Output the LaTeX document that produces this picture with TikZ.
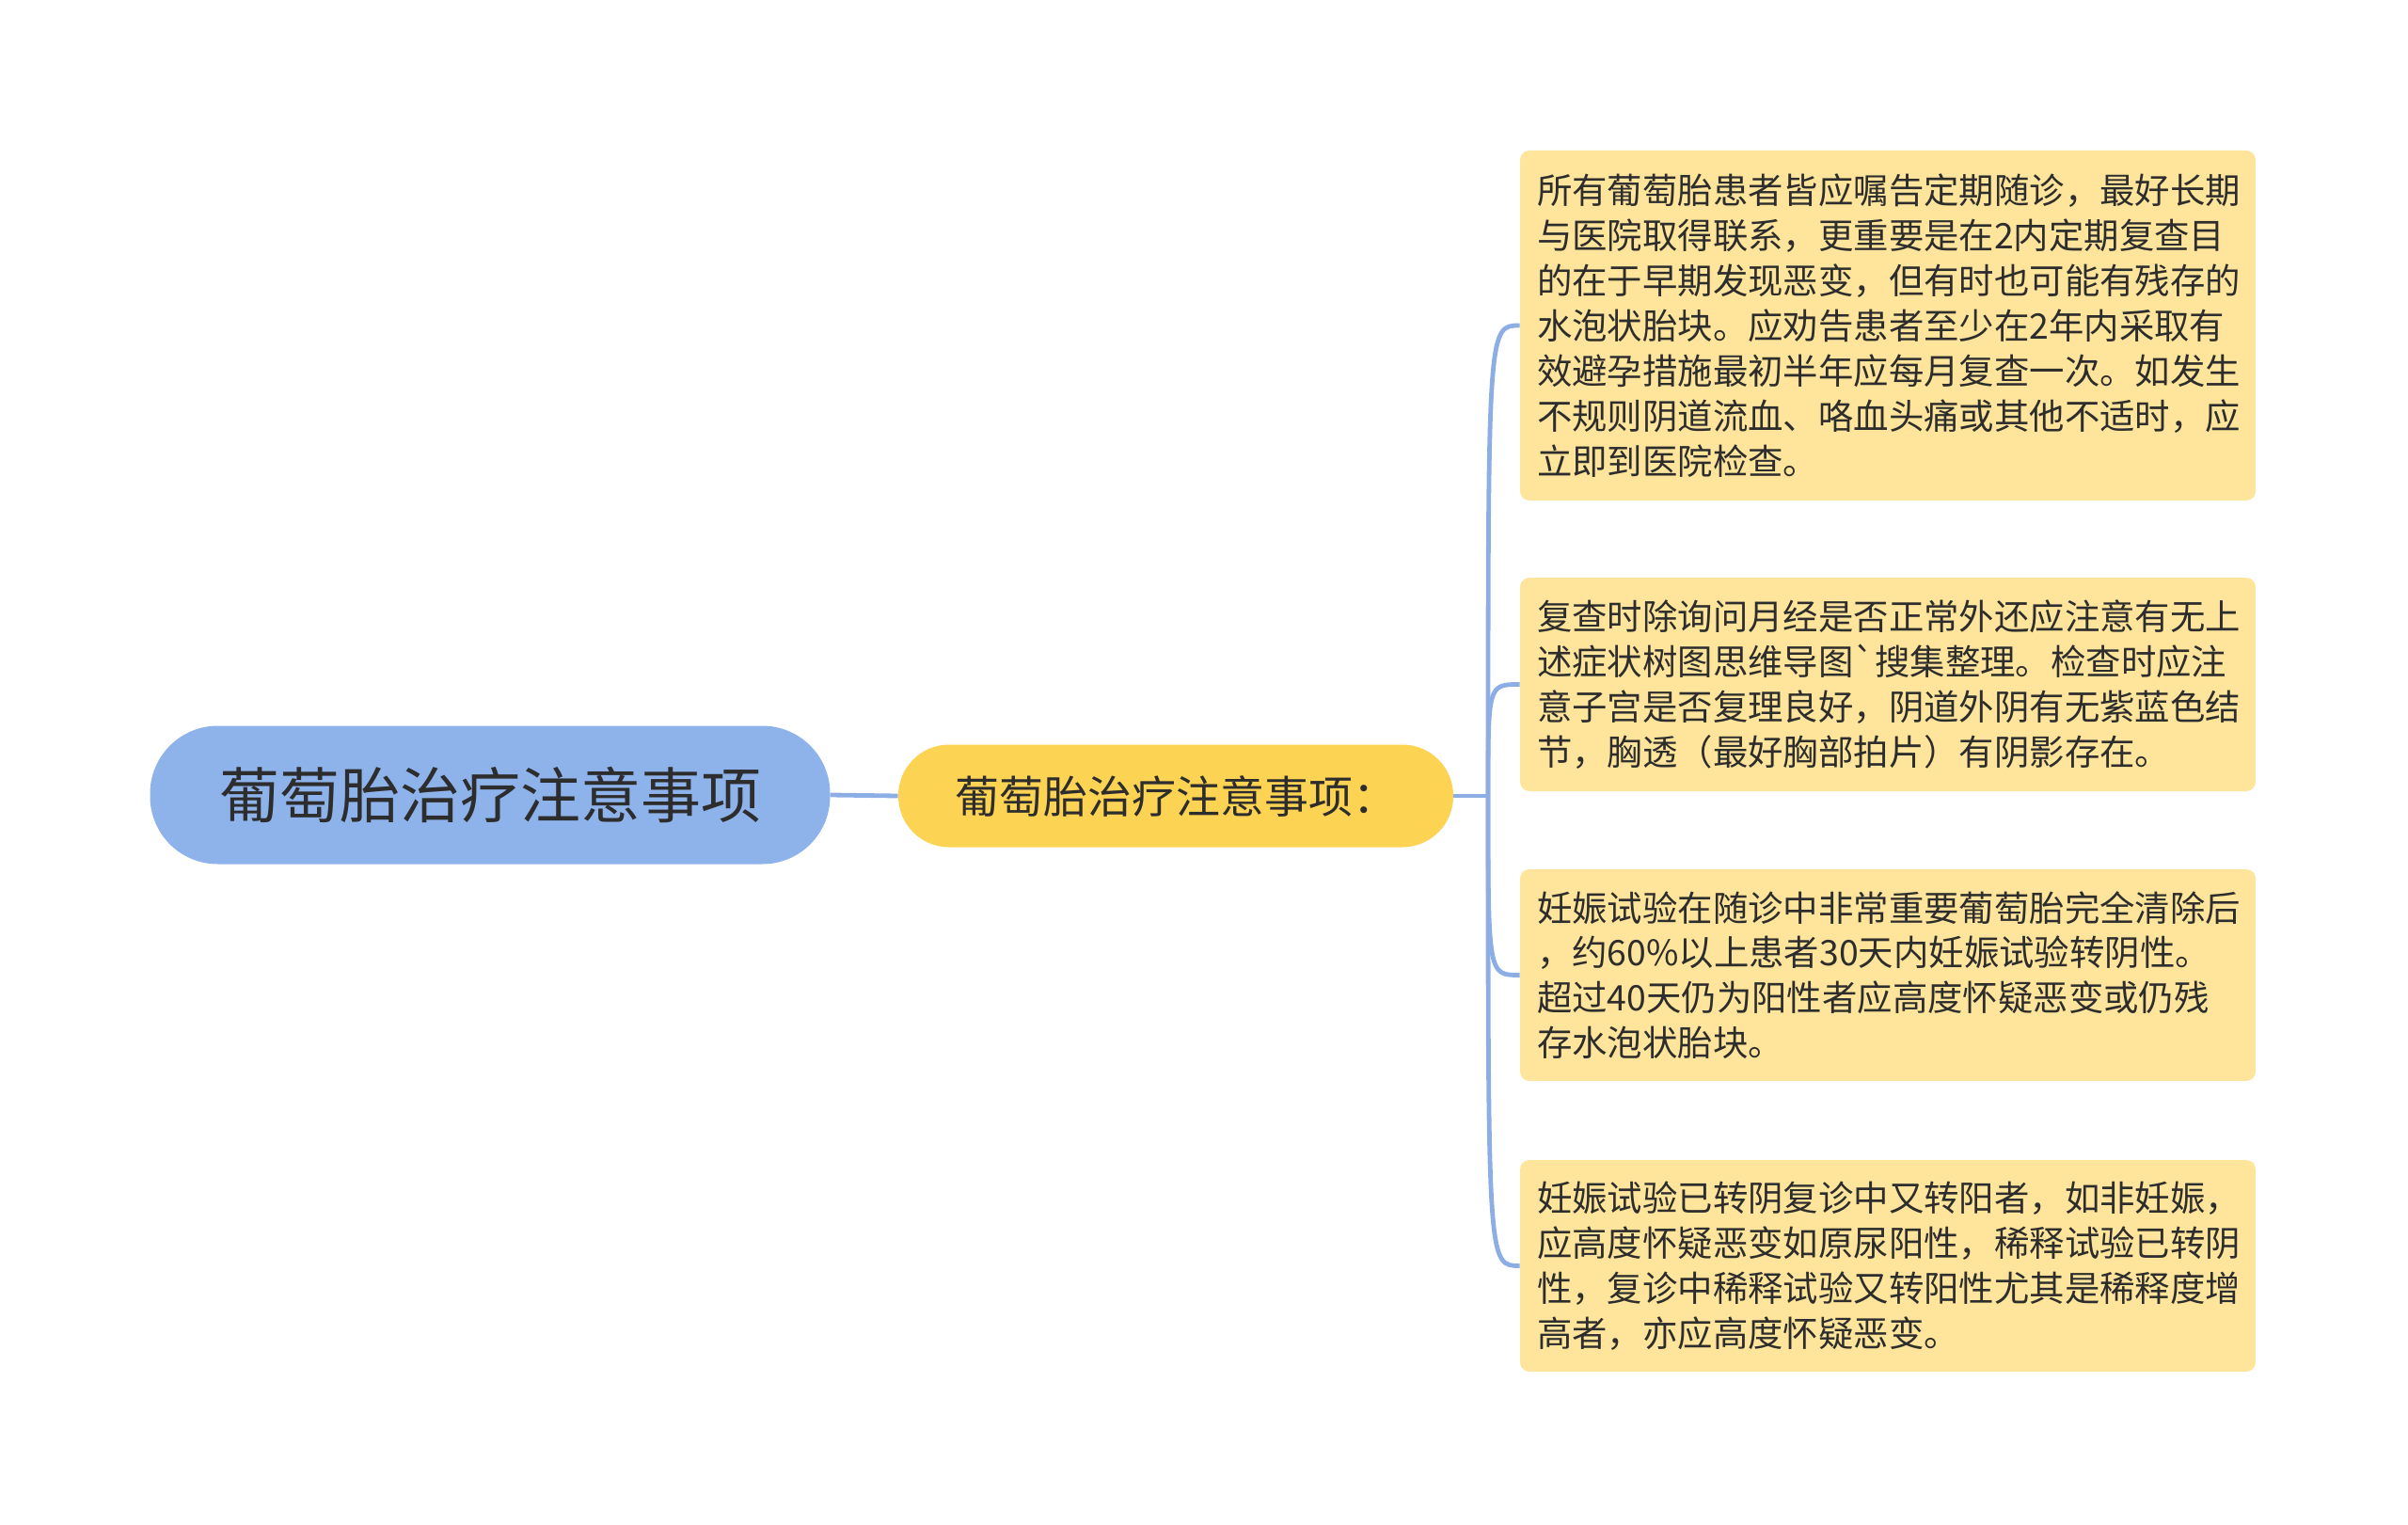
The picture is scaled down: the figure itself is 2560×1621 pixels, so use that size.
\documentclass[tikz,border=0pt]{standalone}
\usepackage{fontspec}
\setmainfont{Noto Sans CJK SC}
\newfontfamily\plainfont{Noto Sans CJK SC}
\definecolor{rootc}{HTML}{8EB3EA}
\definecolor{subc}{HTML}{FDD353}
\definecolor{leafc}{HTML}{FEE59B}
\definecolor{linec}{HTML}{8DAEE5}
\definecolor{txt}{HTML}{2D2D2D}
\begin{document}
\begin{tikzpicture}[x=0.5pt,y=-0.5pt,
  rootbox/.style={fill=rootc, rounded corners=36pt, minimum width=361.5pt, minimum height=73.5pt, inner sep=0pt, text=txt, font=\fontsize{32pt}{38pt}\selectfont},
  subbox/.style={fill=subc, rounded corners=27pt, minimum width=295pt, minimum height=54.5pt, inner sep=0pt, text=txt, font=\fontsize{23.5pt}{28pt}\selectfont},
  leaf/.style={fill=leafc, rounded corners=5pt, text width=373pt, inner xsep=9pt, inner ysep=0pt, align=left, text=txt, font=\fontsize{18.7pt}{23.95pt}\selectfont},
  link/.style={draw=linec, line width=2.4pt}]
\path[use as bounding box] (0,0) rectangle (2560,1621);
\node[rootbox] (root) at (521,845) {葡萄胎治疗注意事项};
\node[subbox] (sub) at (1250,846) {葡萄胎治疗注意事项：};
\node[leaf, minimum height=186pt] (l1) at (2007,346) {所有葡萄胎患者皆应嘱告定期随诊，最好长期\\与医院取得联系，更重要是在2内定期复查目\\的在于早期发现恶变，但有时也可能有残存的\\水泡状胎块。应劝告患者至少在2年内采取有\\效避孕措施最初半年应每月复查一次。如发生\\不规则阴道流血、咯血头痛或其他不适时，应\\立即到医院检查。};
\node[leaf, minimum height=113.5pt] (l2) at (2007,727.5) {复查时除询问月经是否正常外还应注意有无上\\述症状树图思维导图{\plainfont`}搜集整理。检查时应注\\意子宫是否复理良好，阴道外阴有无紫蓝色结\\节，胸透（最好胸部拍片）有阴影存在。};
\node[leaf, minimum height=112.5pt] (l3) at (2007,1036.5) {妊娠试验在随诊中非常重要葡萄胎完全清除后\\，约60\%以上患者30天内妊娠试验转阴性。\\超过40天仍为阳性者应高度怀疑恶变或仍残\\存水泡状胎块。};
\node[leaf, minimum height=112.5pt] (l4) at (2007,1345.5) {妊娠试验已转阴复诊中又转阳者，如非妊娠，\\应高度怀疑恶变如原尿阳性，稀释试验已转阴\\性，复诊中稀释试验又转阳性尤其是稀释度增\\高者，亦应高度怀疑恶变。};
\coordinate (hub) at (1582,846);
\draw[link] (root.east) -- (sub.west);
\draw[link] (sub.east) -- (hub);
\foreach \n in {l1,l2,l3,l4}
  \draw[link] (hub) .. controls (hub |- \n.west) and (hub |- \n.west) .. (\n.west);
\end{tikzpicture}
\end{document}
